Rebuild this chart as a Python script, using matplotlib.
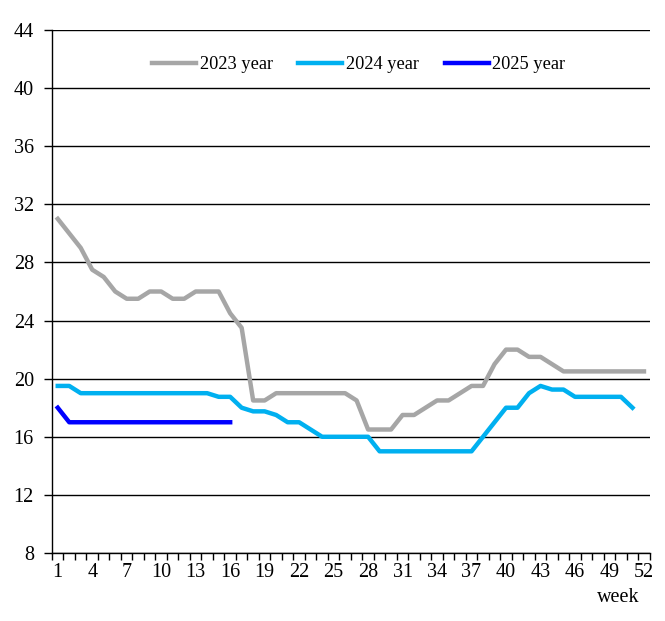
import numpy as np
import matplotlib.pyplot as plt

plt.rcParams['font.family'] = ['Liberation Serif', 'DejaVu Serif']

weeks = np.arange(1, 53)

price_2023 = [31, 30, 29, 27.5, 27, 26, 25.5, 25.5, 26, 26, 25.5, 25.5, 26, 26, 26, 24.5,
              23.5, 18.5, 18.5, 19, 19, 19, 19, 19, 19, 19, 18.5, 16.5, 16.5, 16.5, 17.5, 17.5,
              18, 18.5, 18.5, 19, 19.5, 19.5, 21, 22, 22, 21.5, 21.5, 21, 20.5, 20.5, 20.5, 20.5,
              20.5, 20.5, 20.5, 20.5]
price_2024 = [19.5, 19.5, 19, 19, 19, 19, 19, 19, 19, 19, 19, 19, 19, 19, 18.75, 18.75,
              18, 17.75, 17.75, 17.5, 17, 17, 16.5, 16, 16, 16, 16, 16, 15, 15, 15, 15,
              15, 15, 15, 15, 15, 16, 17, 18, 18, 19, 19.5, 19.25, 19.25, 18.75, 18.75, 18.75,
              18.75, 18.75, 18]
price_2025 = [18, 17, 17, 17, 17, 17, 17, 17, 17, 17, 17, 17, 17, 17, 17, 17]

fig = plt.figure(figsize=(6.65, 6.21), dpi=100)
ax = fig.add_axes([0.0782, 0.1095, 0.8988, 0.8422])

ax.plot(weeks[:len(price_2023)], price_2023, color='#A6A6A6', lw=3.2, label='2023 year')
ax.plot(weeks[:len(price_2024)], price_2024, color='#00B0F0', lw=3.2, label='2024 year')
ax.plot(weeks[:len(price_2025)], price_2025, color='#0000FF', lw=3.2, label='2025 year')

ax.set_xlim(0.5, 52.5)
ax.set_ylim(8, 44)
ax.set_yticks(np.arange(8, 45, 4))
ax.set_xticks(np.arange(1, 53, 3))
ax.set_xticks(np.arange(0.5, 53, 1), minor=True)
ax.tick_params(axis='x', which='major', length=0, labelsize=14.5, pad=7)
ax.tick_params(axis='x', which='minor', length=5, width=1, direction='out', color='black')
ax.tick_params(axis='y', length=6, width=1, labelsize=14.5, pad=7)
ax.grid(axis='y', color='black', lw=1)
ax.set_axisbelow(True)

for s in ['top', 'right']:
    ax.spines[s].set_visible(False)
ax.spines['left'].set_linewidth(1)
ax.spines['bottom'].set_linewidth(1)

ax.text(0.983, -0.085, 'week', transform=ax.transAxes, ha='right', va='center', fontsize=14.5)

ax.legend(loc='center', bbox_to_anchor=(0.513, 0.934), ncol=3, frameon=False,
          fontsize=13.2, handlelength=2.4, handletextpad=0.2, columnspacing=1.4)

fig.savefig('out.png', dpi=100)
